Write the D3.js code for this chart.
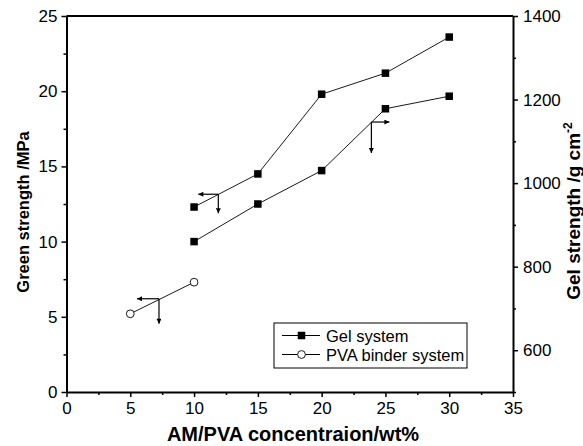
<!DOCTYPE html>
<html>
<head>
<meta charset="utf-8">
<script src="https://cdn.jsdelivr.net/npm/d3@7"></script>
<style>
  body { margin: 0; background: #fff; }
  svg text { font-family: "Liberation Sans", Arial, sans-serif; fill: #000; }
</style>
</head>
<body>
<div id="chart"></div>
<script>
// data
const concentration = [10, 15, 20, 25, 30]
const gelGreenStrength = [12.3, 14.5, 19.8, 21.2, 23.6]      // MPa, left axis
const gelStrength = [860, 950, 1030, 1178, 1208]             // g cm-2, right axis
const pvaConcentration = [5, 10]
const pvaGreenStrength = [5.2, 7.3]                          // MPa, left axis

const xTicks = [0, 5, 10, 15, 20, 25, 30, 35]
const yLeftTicks = [0, 5, 10, 15, 20, 25]
const yRightTicks = [600, 800, 1000, 1200, 1400]

// arrows telling which axis a curve belongs to (vertex in left-axis units)
const arrows = [
  {x: 11.9, y: 13.15, dir: 'left', h: 20, v: 19},
  {x: 23.9, y: 17.95, dir: 'right', h: 18, v: 31},
  {x: 7.25, y: 6.2, dir: 'left', h: 22, v: 25}
]

const W = 583, H = 446
const margin = {top: 16, right: 70, bottom: 54, left: 66.5}

const svg = d3.select('#chart').append('svg')
  .attr('width', W).attr('height', H)

const x = d3.scaleLinear().domain([0, 35]).range([margin.left, W - margin.right])
const yL = d3.scaleLinear().domain([0, 25]).range([H - margin.bottom, margin.top])
const yR = d3.scaleLinear().domain([500, 1400]).range([H - margin.bottom, margin.top])

svg.append('defs').append('marker')
  .attr('id', 'head')
  .attr('viewBox', '0 0 10 10')
  .attr('refX', 10).attr('refY', 5)
  .attr('markerWidth', 7).attr('markerHeight', 5)
  .attr('markerUnits', 'userSpaceOnUse')
  .attr('orient', 'auto')
  .append('path').attr('d', 'M0,0L10,5L0,10Z').attr('fill', '#000')

// axes
const styleAxis = (g, size) => {
  g.select('.domain').attr('stroke-width', 2)
  g.selectAll('.tick line').attr('stroke-width', 1.5)
  g.selectAll('.tick text').style('font-size', size + 'px')
}

const minorX = d3.range(2.5, 35, 5)
const minorYL = d3.range(2.5, 25, 5)
const minorYR = d3.range(500, 1400, 200)

svg.append('g')
  .attr('transform', `translate(0,${H - margin.bottom})`)
  .call(d3.axisBottom(x).tickValues(minorX).tickSize(3).tickFormat(''))
  .call(g => g.select('.domain').remove())
  .selectAll('line').attr('stroke-width', 1.5)
svg.append('g')
  .attr('transform', `translate(${margin.left},0)`)
  .call(d3.axisLeft(yL).tickValues(minorYL).tickSize(3).tickFormat(''))
  .call(g => g.select('.domain').remove())
  .selectAll('line').attr('stroke-width', 1.5)
svg.append('g')
  .attr('transform', `translate(${W - margin.right},0)`)
  .call(d3.axisRight(yR).tickValues(minorYR).tickSize(3).tickFormat(''))
  .call(g => g.select('.domain').remove())
  .selectAll('line').attr('stroke-width', 1.5)

svg.append('g')
  .attr('transform', `translate(0,${H - margin.bottom})`)
  .call(d3.axisBottom(x).tickValues(xTicks).tickSize(5).tickSizeOuter(0).tickPadding(5))
  .call(g => styleAxis(g, 17))

svg.append('g')
  .attr('transform', `translate(${margin.left},0)`)
  .call(d3.axisLeft(yL).tickValues(yLeftTicks).tickSize(5).tickSizeOuter(0).tickPadding(4))
  .call(g => styleAxis(g, 17))

svg.append('g')
  .attr('transform', `translate(${W - margin.right},0)`)
  .call(d3.axisRight(yR).tickValues(yRightTicks).tickSize(5).tickSizeOuter(0).tickPadding(5)
    .tickFormat(d3.format('d')))
  .call(g => styleAxis(g, 17))

// top border
svg.append('line')
  .attr('x1', margin.left).attr('x2', W - margin.right)
  .attr('y1', margin.top).attr('y2', margin.top)
  .attr('stroke', '#000').attr('stroke-width', 2)

// axis titles
svg.append('text')
  .attr('x', 293).attr('y', 441)
  .attr('text-anchor', 'middle')
  .style('font-size', '20px').style('font-weight', 'bold')
  .text('AM/PVA concentraion/wt%')

svg.append('text')
  .attr('transform', `translate(29,212) rotate(-90)`)
  .attr('text-anchor', 'middle')
  .style('font-size', '16.5px').style('font-weight', 'bold')
  .text('Green strength /MPa')

const rt = svg.append('text')
  .attr('transform', `translate(580,211) rotate(-90)`)
  .attr('text-anchor', 'middle')
  .style('font-size', '19px').style('font-weight', 'bold')
rt.append('tspan').text('Gel strength /g cm')
rt.append('tspan').attr('dy', -8).style('font-size', '12px').text('-2')

// series
const line = (xs, ys, sx, sy) => d3.line()(xs.map((v, i) => [sx(v), sy(ys[i])]))

const plot = svg.append('g')
plot.append('path').attr('d', line(concentration, gelGreenStrength, x, yL))
  .attr('fill', 'none').attr('stroke', '#000').attr('stroke-width', 0.9)
plot.append('path').attr('d', line(concentration, gelStrength, x, yR))
  .attr('fill', 'none').attr('stroke', '#000').attr('stroke-width', 0.9)
plot.append('path').attr('d', line(pvaConcentration, pvaGreenStrength, x, yL))
  .attr('fill', 'none').attr('stroke', '#000').attr('stroke-width', 0.9)

const sq = 7.5
plot.selectAll('rect.g1').data(concentration).enter().append('rect')
  .attr('x', d => x(d) - sq / 2)
  .attr('y', (d, i) => yL(gelGreenStrength[i]) - sq / 2)
  .attr('width', sq).attr('height', sq).attr('fill', '#000')
plot.selectAll('rect.g2').data(concentration).enter().append('rect')
  .attr('x', d => x(d) - sq / 2)
  .attr('y', (d, i) => yR(gelStrength[i]) - sq / 2)
  .attr('width', sq).attr('height', sq).attr('fill', '#000')
plot.selectAll('circle.pva').data(pvaConcentration).enter().append('circle')
  .attr('cx', d => x(d))
  .attr('cy', (d, i) => yL(pvaGreenStrength[i]))
  .attr('r', 3.9)
  .attr('fill', '#fff').attr('stroke', '#000').attr('stroke-width', 0.9)

// axis-indicator arrows
arrows.forEach(a => {
  const px = x(a.x), py = yL(a.y)
  const hx = a.dir === 'left' ? px - a.h : px + a.h
  svg.append('line').attr('x1', px).attr('y1', py).attr('x2', hx).attr('y2', py)
    .attr('stroke', '#000').attr('stroke-width', 1.2).attr('marker-end', 'url(#head)')
  svg.append('line').attr('x1', px).attr('y1', py).attr('x2', px).attr('y2', py + a.v)
    .attr('stroke', '#000').attr('stroke-width', 1.2).attr('marker-end', 'url(#head)')
})

// legend
const lg = svg.append('g').attr('transform', 'translate(274,323)')
lg.append('rect').attr('width', 193).attr('height', 45)
  .attr('fill', '#fff').attr('stroke', '#000').attr('stroke-width', 1)
const items = ['Gel system', 'PVA binder system']
items.forEach((t, i) => {
  const cy = 12.5 + i * 19
  lg.append('line').attr('x1', 8).attr('x2', 46).attr('y1', cy).attr('y2', cy)
    .attr('stroke', '#000').attr('stroke-width', 1)
  if (i === 0) {
    lg.append('rect').attr('x', 27.5 - sq / 2).attr('y', cy - sq / 2)
      .attr('width', sq).attr('height', sq).attr('fill', '#000')
  } else {
    lg.append('circle').attr('cx', 27.5).attr('cy', cy).attr('r', 3.9)
      .attr('fill', '#fff').attr('stroke', '#000').attr('stroke-width', 0.9)
  }
  lg.append('text').attr('x', 52).attr('y', cy + 6)
    .style('font-size', '16.5px').text(t)
})
</script>
</body>
</html>
